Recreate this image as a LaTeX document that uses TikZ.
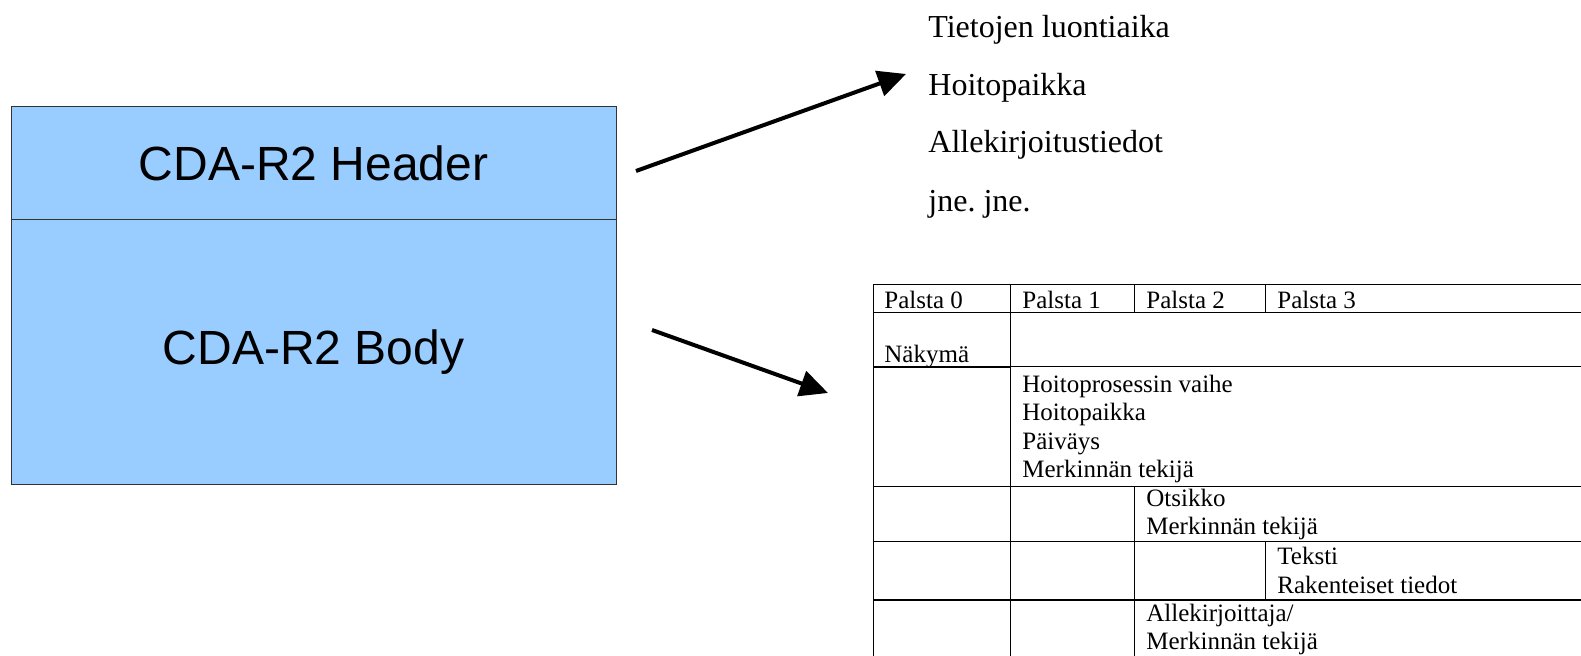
\documentclass[tikz,border=0pt]{standalone}
\usepackage{fontspec}
\setmainfont{Liberation Serif}
\newfontfamily\boxfont{Liberation Sans}
\usetikzlibrary{arrows.meta}
\definecolor{cdablue}{HTML}{99CCFF}
\frenchspacing
\tikzset{
	cdabox/.style={draw=black!80, line width=0.5pt, fill=cdablue, minimum width=302.5pt, inner sep=0pt, font=\boxfont\fontsize{24}{28}\selectfont},
	bigarrow/.style={line width=2pt, -{Triangle[length=14pt,width=13pt]}},
	infotext/.style={anchor=base west, inner sep=0pt, font=\fontsize{16}{19}\selectfont},
	celltext/.style={anchor=base west, inner sep=0pt, font=\fontsize{12.5}{14}\selectfont},
	gridline/.style={line width=0.5pt},
	boldline/.style={line width=1pt}
}
\begin{document}
\begin{tikzpicture}[x=0.5pt,y=-0.5pt]
		\useasboundingbox (0,0) rectangle (1581,656);
		\node[cdabox, minimum height=56.5pt] (header) at (313.5,163.5) {CDA-R2 Header};
		\node[cdabox, minimum height=132.5pt] (body) at (313.5,352.5) {CDA-R2 Body};
		
		\foreach \y/\t/\n in {27/Tietojen luontiaika/luonti, 85/Hoitopaikka/paikka, 142/Allekirjoitustiedot/allek, 201/jne. jne./jne}{
			\node[infotext] (\n) at (928,{\y+10.5}) {\t};
		}
		
		%\draw[dashed] (873,285) rectangle (1581,656);
		\draw[gridline] (873,285) -- (873,656);
		\foreach \y in {285,313,487,542}{
			\draw[gridline] (873,\y) -- (1581,\y);
		}
		\draw[gridline] (1010,367) -- (1581,367);
		\draw[boldline] (873,367) -- (1010,367);
		\draw[boldline] (873,600) -- (1581,600);
		\draw[gridline] (1010,285) -- (1010,656);
		\foreach \a/\b in {285/313, 487/656}{
			\draw[gridline] (1134,\a) -- (1134,\b);
		}
		\foreach \a/\b in {285/313, 542/600}{
			\draw[gridline] (1265,\a) -- (1265,\b);
		}
		
		\foreach \x/\y/\t [count=\i] in {884/309/Palsta 0, 1022/309/Palsta 1, 1146/309/Palsta 2, 1277/309/Palsta 3,
			884/363/Näkymä,
			1022/393/Hoitoprosessin vaihe, 1022/421/Hoitopaikka, 1022/450/Päiväys, 1022/478/Merkinnän tekijä,
			1146/507/Otsikko, 1146/535/Merkinnän tekijä,
			1277/565/Teksti, 1277/594/Rakenteiset tiedot,
			1146/622/{Allekirjoittaja/}, 1146/650/Merkinnän tekijä}{
			\node[celltext] (cell\i) at (\x,\y) {\t};
		}
		
		\coordinate (hfrom) at (636,171);
		\coordinate (hto) at (906,74);
		\coordinate (bfrom) at (652,330);
		\coordinate (bto) at (828,393);
		\draw[bigarrow] (hfrom) -- (hto);
		\draw[bigarrow] (bfrom) -- (bto);
\end{tikzpicture}
\end{document}
